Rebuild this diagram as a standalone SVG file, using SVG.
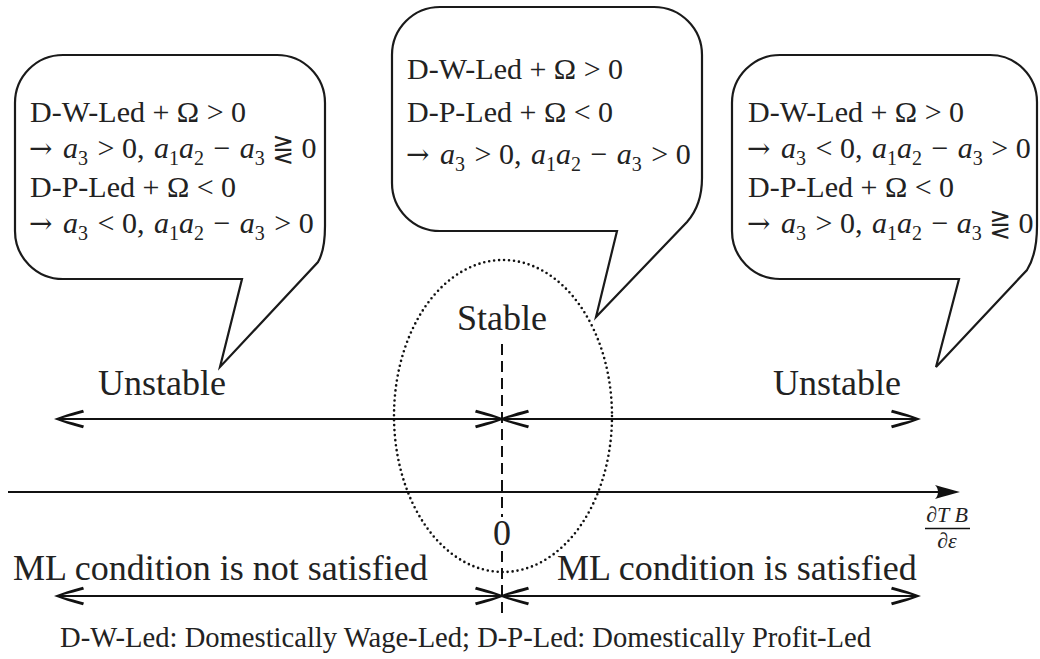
<svg xmlns="http://www.w3.org/2000/svg" width="1040" height="659" viewBox="0 0 1040 659">
<style>
  .bubble { fill: #ffffff; stroke: #1a1a1a; stroke-width: 2.2; stroke-linejoin: miter; }
  .bt { font-family: "Liberation Serif", "Times New Roman", serif; font-size: 30px; fill: #222; }
  .mi { font-style: italic; }
  .sub { font-size: 20px; }
  .arr { font-family: "DejaVu Serif", "DejaVu Sans", serif; font-size: 28px; }
  .rel { font-family: "DejaVu Serif", "DejaVu Sans", serif; font-size: 26px; }
  .lbl { font-family: "Liberation Serif", "Times New Roman", serif; font-size: 36px; fill: #222; }
  .note { font-family: "Liberation Serif", "Times New Roman", serif; font-size: 28.6px; fill: #222; }
  .frac { font-family: "Liberation Serif", "Times New Roman", serif; font-size: 22px; font-style: italic; fill: #222; }
  .line { stroke: #111; stroke-width: 2; fill: none; }
  .dbl { stroke: #111; stroke-width: 2.2; fill: none; marker-start: url(#to); marker-end: url(#to); }
</style>
<defs>
  <marker id="to" viewBox="-32 -12 34 24" refX="-3" refY="0" markerWidth="34" markerHeight="24" markerUnits="userSpaceOnUse" orient="auto-start-reverse">
    <path d="M0,0 C-8,-3 -18,-6.5 -29,-9.2 L-30,-6.6 C-20,-3.6 -11,-1.6 -5,0 C-11,1.6 -20,3.6 -30,6.6 L-29,9.2 C-18,6.5 -8,3 0,0 Z" fill="#111"/>
  </marker>
  <marker id="stealth" viewBox="-27 -9 29 18" refX="-6" refY="0" markerWidth="29" markerHeight="18" markerUnits="userSpaceOnUse" orient="auto">
    <path d="M0,0 C-7,-1.8 -16,-4.5 -25,-7 C-21,-3 -21,3 -25,7 C-16,4.5 -7,1.8 0,0 Z" fill="#111"/>
  </marker>
</defs>

<g id="bubble-left">
  <path class="bubble" d="M63,55 H277 A48,48 0 0 1 325,103 V226 Q325,250 318,262 L220,367 L242,279 H63 A48,48 0 0 1 15,231 V103 A48,48 0 0 1 63,55 Z"/>
  <text class="bt" x="30" y="122">D-W-Led + Ω &gt; 0</text>
  <text class="bt" x="29" y="158"><tspan class="arr">→</tspan> <tspan class="mi" dx="3">a</tspan><tspan class="sub" dy="7">3</tspan><tspan dy="-7" dx="2"> &gt; 0, </tspan><tspan class="mi" dx="2">a</tspan><tspan class="sub" dy="7">1</tspan><tspan class="mi" dy="-7">a</tspan><tspan class="sub" dy="7">2</tspan><tspan dy="-7" dx="2"> − </tspan><tspan class="mi" dx="2">a</tspan><tspan class="sub" dy="7">3</tspan><tspan dy="-7"> </tspan><tspan class="rel">⋛</tspan><tspan> 0</tspan></text>
  <text class="bt" x="30" y="197">D-P-Led + Ω &lt; 0</text>
  <text class="bt" x="29" y="233"><tspan class="arr">→</tspan> <tspan class="mi" dx="3">a</tspan><tspan class="sub" dy="7">3</tspan><tspan dy="-7" dx="2"> &lt; 0, </tspan><tspan class="mi" dx="2">a</tspan><tspan class="sub" dy="7">1</tspan><tspan class="mi" dy="-7">a</tspan><tspan class="sub" dy="7">2</tspan><tspan dy="-7" dx="2"> − </tspan><tspan class="mi" dx="2">a</tspan><tspan class="sub" dy="7">3</tspan><tspan dy="-7" dx="2"> &gt; 0</tspan></text>
</g>

<g id="bubble-middle">
  <path class="bubble" d="M440,7 H654 A48,48 0 0 1 702,55 V178 Q702,205 687,222 L596,317 L617,231 H440 A48,48 0 0 1 392,183 V55 A48,48 0 0 1 440,7 Z"/>
  <text class="bt" x="407" y="79">D-W-Led + Ω &gt; 0</text>
  <text class="bt" x="407" y="122">D-P-Led + Ω &lt; 0</text>
  <text class="bt" x="406" y="164"><tspan class="arr">→</tspan> <tspan class="mi" dx="3">a</tspan><tspan class="sub" dy="7">3</tspan><tspan dy="-7" dx="2"> &gt; 0, </tspan><tspan class="mi" dx="2">a</tspan><tspan class="sub" dy="7">1</tspan><tspan class="mi" dy="-7">a</tspan><tspan class="sub" dy="7">2</tspan><tspan dy="-7" dx="2"> − </tspan><tspan class="mi" dx="2">a</tspan><tspan class="sub" dy="7">3</tspan><tspan dy="-7" dx="2"> &gt; 0</tspan></text>
</g>

<g id="bubble-right">
  <path class="bubble" d="M780,55 H990 A47,47 0 0 1 1037,102 V226 Q1037,254 1027,270 L936,367 L959,279 H780 A48,48 0 0 1 732,231 V103 A48,48 0 0 1 780,55 Z"/>
  <text class="bt" x="748" y="122">D-W-Led + Ω &gt; 0</text>
  <text class="bt" x="747" y="158"><tspan class="arr">→</tspan> <tspan class="mi" dx="3">a</tspan><tspan class="sub" dy="7">3</tspan><tspan dy="-7" dx="2"> &lt; 0, </tspan><tspan class="mi" dx="2">a</tspan><tspan class="sub" dy="7">1</tspan><tspan class="mi" dy="-7">a</tspan><tspan class="sub" dy="7">2</tspan><tspan dy="-7" dx="2"> − </tspan><tspan class="mi" dx="2">a</tspan><tspan class="sub" dy="7">3</tspan><tspan dy="-7" dx="1"> &gt; 0</tspan></text>
  <text class="bt" x="748" y="197">D-P-Led + Ω &lt; 0</text>
  <text class="bt" x="747" y="233"><tspan class="arr">→</tspan> <tspan class="mi" dx="3">a</tspan><tspan class="sub" dy="7">3</tspan><tspan dy="-7" dx="2"> &gt; 0, </tspan><tspan class="mi" dx="2">a</tspan><tspan class="sub" dy="7">1</tspan><tspan class="mi" dy="-7">a</tspan><tspan class="sub" dy="7">2</tspan><tspan dy="-7" dx="2"> − </tspan><tspan class="mi" dx="1">a</tspan><tspan class="sub" dy="7">3</tspan><tspan dy="-7"> </tspan><tspan class="rel">⋛</tspan><tspan> 0</tspan></text>
</g>

<g id="stable-region">
  <ellipse cx="503" cy="416" rx="109" ry="156" fill="none" stroke="#111" stroke-width="2.6" stroke-linecap="round" stroke-dasharray="0 5"/>
  <text class="lbl" x="502" y="330" text-anchor="middle">Stable</text>
</g>

<g id="labels">
  <text class="lbl" x="98" y="395">Unstable</text>
  <text class="lbl" x="773" y="395">Unstable</text>
  <text class="lbl" x="502" y="545" text-anchor="middle">0</text>
  <text class="lbl" x="13" y="580">ML condition is not satisfied</text>
  <text class="lbl" x="557" y="580">ML condition is satisfied</text>
  <g id="axis-label">
    <text class="frac" x="947" y="522" text-anchor="middle">∂T B</text>
    <line x1="925" y1="528.5" x2="970" y2="528.5" stroke="#111" stroke-width="1.5"/>
    <text class="frac" x="947" y="548" text-anchor="middle">∂ε</text>
  </g>
  <text class="note" x="60" y="647">D-W-Led: Domestically Wage-Led; D-P-Led: Domestically Profit-Led</text>
</g>

<g id="connectors">
  <line class="line" x1="502" y1="344" x2="502" y2="517" stroke-dasharray="11 6"/>
  <line class="line" x1="502" y1="551" x2="502" y2="614" stroke-dasharray="11 6"/>
  <line class="line" x1="8" y1="492" x2="954" y2="492" marker-end="url(#stealth)"/>
  <line class="dbl" x1="57" y1="419" x2="502" y2="419"/>
  <line class="dbl" x1="502" y1="419" x2="918" y2="419"/>
  <line class="dbl" x1="57" y1="596" x2="502" y2="596"/>
  <line class="dbl" x1="502" y1="596" x2="918" y2="596"/>
</g>
</svg>
